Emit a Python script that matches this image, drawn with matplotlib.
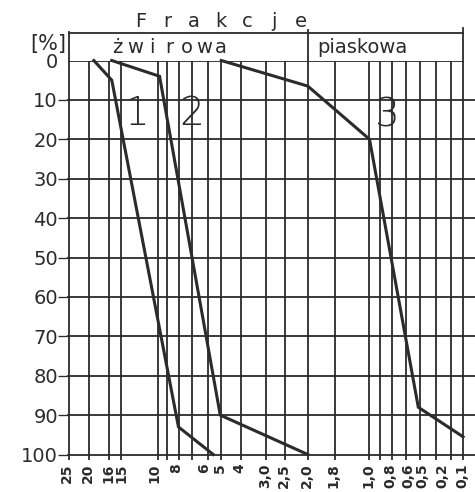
import numpy as np
import matplotlib
matplotlib.use("Agg")
import matplotlib.pyplot as plt

# ---- data ----
# x axis: the chart's own (hand-drawn, non-uniform) grain-size scale, in chart units
grid_pos = [0, 20, 40, 52, 89, 98, 111, 124, 140, 153, 173, 198, 217, 240,
            267, 301, 313, 325, 339, 353, 369, 384, 396]
tick_labels = ["25", "20", "16", "15", "10", "8", "6", "5", "4", "3,0", "2,5",
               "2,0", "1,8", "1,0", "0,8", "0,6", "0,5", "0,2", "0,1"]
tick_pos = [-2, 19, 40, 53, 86, 108, 136, 152, 171, 197, 216, 239, 266,
            301, 323, 341, 355, 375, 395]
y_ticks = [0, 10, 20, 30, 40, 50, 60, 70, 80, 90, 100]

curve1_x = [25, 43, 110, 145]
curve1_y = [0, 5, 93, 100]
curve2_x = [43, 91, 152, 240]
curve2_y = [0, 4, 90, 100]
curve3_x = [153, 240, 302, 351, 396]
curve3_y = [0, 6.5, 20, 88, 95.5]

curve_labels = ["1", "2", "3"]
curve_label_x = [68, 123, 320]
curve_label_y = [13.5, 13.5, 14]

ink = "#2b2b2b"
W, H = 475, 492
fig = plt.figure(figsize=(W / 100, H / 100), dpi=100)
fig.patch.set_facecolor("white")
top_px, bot_px, left_px = 60.5, 462, 67
ax = fig.add_axes([left_px / W, 1 - bot_px / H, 1 - left_px / W, (bot_px - top_px) / H])
ax.set_xlim(0, 408)
ax.set_ylim(101.9, 0)
for s in ax.spines.values():
    s.set_visible(False)

lw_grid = 1.3
# vertical grid
ax.vlines(grid_pos, 0, 101.5, color=ink, lw=lw_grid)
# horizontal grid
ax.hlines([0], 0, 396, color=ink, lw=lw_grid)
ax.hlines(y_ticks[1:], -2.5, 408, color=ink, lw=lw_grid, clip_on=False)

# header frame
ax.plot([0, 396], [-7, -7], color=ink, lw=lw_grid, clip_on=False)
ax.plot([0, 0], [-7.2, 0], color=ink, lw=lw_grid, clip_on=False)
ax.plot([240, 240], [-7.8, 0], color=ink, lw=lw_grid, clip_on=False)
ax.plot([396, 396], [-8.3, 0], color=ink, lw=lw_grid, clip_on=False)

# curves
for cx, cy in [(curve1_x, curve1_y), (curve2_x, curve2_y), (curve3_x, curve3_y)]:
    ax.plot(cx, cy, color=ink, lw=2.2, solid_joinstyle="miter", clip_on=False)

for lab, lx, ly in zip(curve_labels, curve_label_x, curve_label_y):
    ax.text(lx, ly, lab, fontsize=28, color=ink, ha="center", va="center",
            fontweight="light", family="DejaVu Sans")

# ticks
ax.set_yticks(y_ticks)
ax.set_yticklabels([str(v) for v in y_ticks], fontsize=14, color=ink)
ax.tick_params(axis="y", length=6.5, width=0.95, color=ink, pad=0)
ax.yaxis.get_major_ticks()[0].tick1line.set_visible(False)
ax.set_xticks(tick_pos)
ax.set_xticklabels(tick_labels, rotation=90, fontsize=10, color=ink, fontweight="bold")
ax.tick_params(axis="x", length=0, pad=1)

# header texts
for ch, xx in zip("Frakcje", np.linspace(72, 233, 7)):
    ax.text(xx, -9.8, ch, fontsize=14, color=ink, ha="center", va="center", clip_on=False)
for ch, xx in zip("żwirowa", np.linspace(49, 153, 7)):
    ax.text(xx, -3.3, ch, fontsize=14, color=ink, ha="center", va="center", clip_on=False)
ax.text(295, -3.4, "piaskowa", fontsize=14, color=ink, ha="center", va="center", clip_on=False)
ax.text(-21, -4.3, "[%]", fontsize=15, color=ink, ha="center", va="center", clip_on=False)

fig.savefig("out.png", dpi=100, facecolor="white")
